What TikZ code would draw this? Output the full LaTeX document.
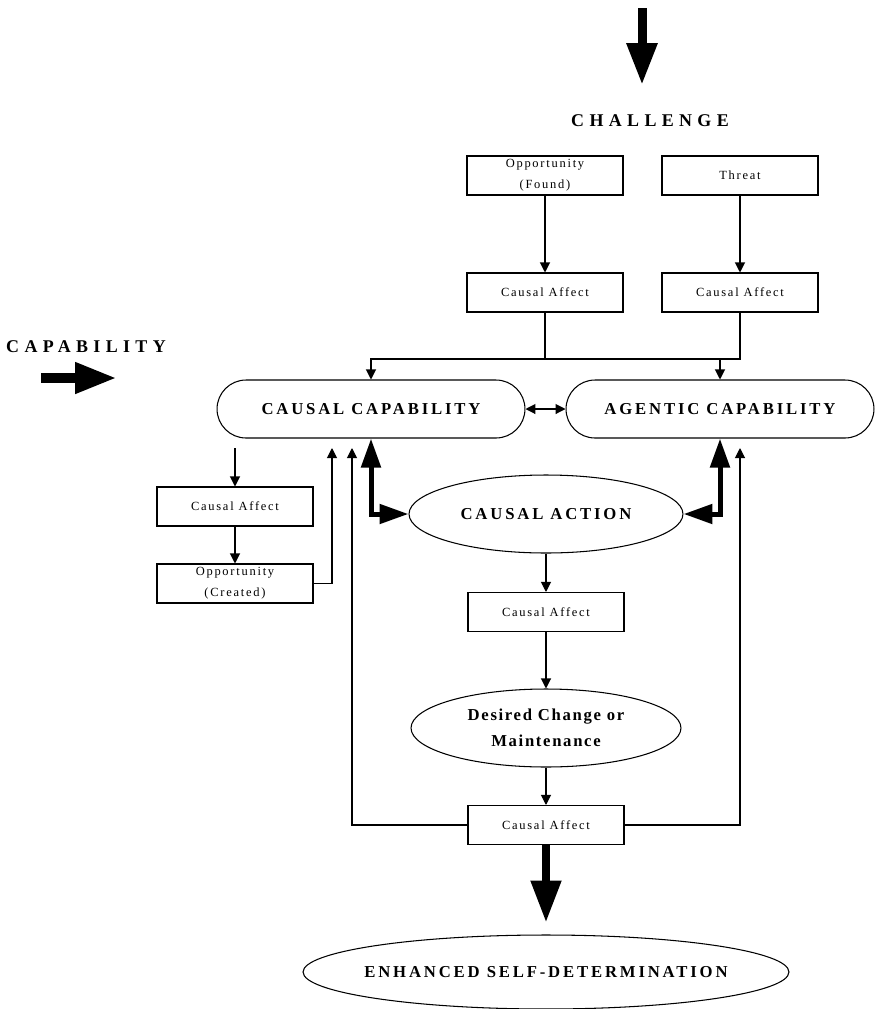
\documentclass[tikz,border=0pt]{standalone}
\usepackage{fontspec}
\setmainfont{Liberation Serif}
\newfontfamily\widefont[LetterSpace=30]{Liberation Serif}
\newfontfamily\pillfont[LetterSpace=17]{Liberation Serif}
\newfontfamily\ovalfont[LetterSpace=10]{Liberation Serif}
\newfontfamily\boxfont[LetterSpace=14]{Liberation Serif}
\usetikzlibrary{arrows.meta,shapes.geometric}

\tikzset{
  flowtip/.tip={Triangle[width=0.2cm,length=0.2cm]},
  heavytip/.tip={Triangle[width=0.38cm,length=0.58cm]},
  bigtip/.tip={Triangle[width=0.58cm,length=0.84cm]}
}

\begin{document}
\begin{tikzpicture}[x=0.02cm,y=-0.02cm,
    box/.style={draw, line width=0.6pt, minimum width=3.12cm, minimum height=0.78cm,
      inner sep=0pt, align=center, font=\boxfont\fontsize{7.1}{11.9}\selectfont},
    pill/.style={draw, line width=0.6pt, rounded corners=0.58cm, minimum width=6.16cm,
      minimum height=1.16cm, inner sep=0pt, font=\pillfont\bfseries\fontsize{9.5}{11}\selectfont},
    oval/.style={draw, line width=0.6pt, ellipse, inner sep=0pt, align=center,
      font=\pillfont\bfseries\fontsize{9.5}{14.7}\selectfont},
    heading/.style={font=\widefont\bfseries\fontsize{10.2}{12}\selectfont},
    flow/.style={line width=0.6pt, -flowtip},
    heavy/.style={line width=0.1cm, heavytip-heavytip},
    bigarrow/.style={line width=0.18cm, -bigtip}]

      \useasboundingbox (0,0) rectangle (876,1009);

      % challenge
      \coordinate (ctop) at (642,8);
      \coordinate (cend) at (642,85);
      \draw[bigarrow] (ctop) -- (cend);
      \node (chal) at (650,121) [heading] {CHALLENGE};

      \node (opp) at (545,175.5) [box] {Opportunity\\(Found)};
      \node (thr) at (740,175.5) [box] {Threat};
      \node (caf) at (545,292.5) [box] {Causal Affect};
      \node (cat) at (740,292.5) [box] {Causal Affect};

      % capability
      \node (capl) at (86,347) [heading] {CAPABILITY};
      \coordinate (kstart) at (41,378);
      \coordinate (kend) at (117,378);
      \draw[bigarrow, line width=0.2cm] (kstart) -- (kend);

      \node (cc) at (371,409) [pill] {CAUSAL CAPABILITY};
      \node (ac) at (720,409) [pill] {AGENTIC CAPABILITY};
      \node (act) at (546,514) [oval, minimum width=5.48cm, minimum height=1.56cm] {CAUSAL ACTION};

      \node (cal) at (235,506.5) [box] {Causal Affect};
      \node (opc) at (235,583.5) [box] {Opportunity\\(Created)};

      \node (cam) at (546,612) [box] {Causal Affect};
      \node (des) at (546,728) [oval, minimum width=5.4cm, minimum height=1.56cm,
        font=\ovalfont\bfseries\fontsize{9.5}{14.7}\selectfont] {Desired Change or\\Maintenance};
      \node (cab) at (546,825) [box] {Causal Affect};
      \node (esd) at (546,972) [oval, inner xsep=-1.5cm, minimum width=9.72cm, minimum height=1.48cm] {ENHANCED SELF-DETERMINATION};

      \draw[flow] (opp) -- (caf);
      \draw[flow] (thr) -- (cat);
      \coordinate (join) at (545,359);
      \draw[line width=0.6pt] (caf.south) -- (join) -| (cat.south);
      \draw[flow] (join) -| (cc.north);
      \draw[flow] (join) -| (ac.north);
      \draw[flow, flowtip-flowtip] (cc.east) -- (ac.west);

      \draw[heavy] (cc.south) |- (act.west);
      \draw[heavy] (ac.south) |- (act.east);

      \coordinate (ltop) at (235,448);
      \coordinate (rtop) at (332,448);
      \coordinate (fbl) at (352,448);
      \coordinate (fbr) at (740,448);
      \draw[flow] (ltop) -- (cal);
      \draw[flow] (cal) -- (opc);
      \draw[flow] (opc.east) -| (rtop);
      \draw[flow] (cab.west) -| (fbl);
      \draw[flow] (cab.east) -| (fbr);

      \draw[flow] (act) -- (cam);
      \draw[flow] (cam) -- (des);
      \draw[flow] (des) -- (cab);
      \coordinate (eend) at ([yshift=0.24cm]esd.north);
      \draw[bigarrow, line width=0.16cm] (cab) -- (eend);
    \end{tikzpicture}
\end{document}
